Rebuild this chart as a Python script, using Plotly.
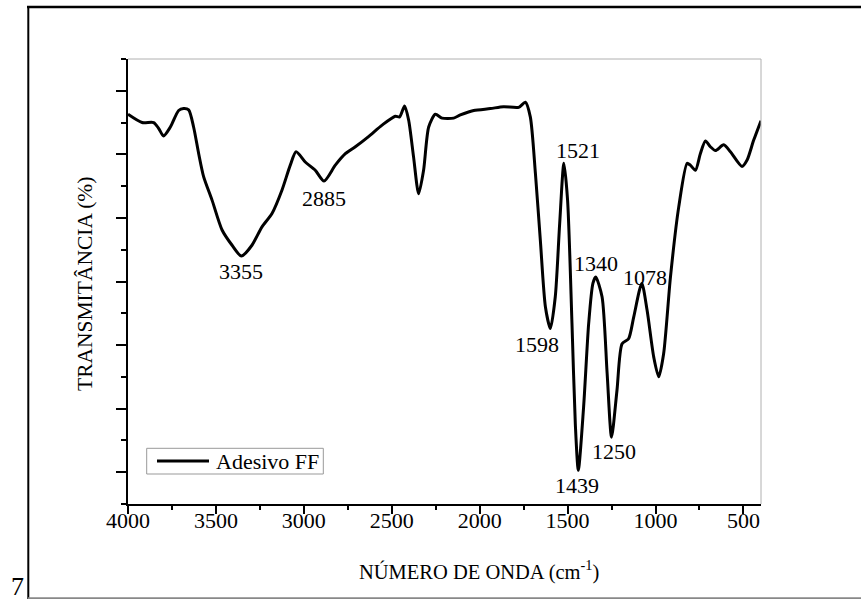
import plotly.graph_objects as go

# FTIR spectrum
wavenumber = [4000, 3920, 3854, 3826, 3798, 3759, 3712, 3684, 3655, 3627, 3598, 3570, 3522, 3465, 3408,
              3355, 3295, 3238, 3181, 3124, 3077, 3044, 2992, 2935, 2885, 2821, 2764, 2707, 2632, 2555,
              2480, 2455, 2427, 2404, 2376, 2347, 2319, 2290, 2252, 2214, 2148, 2110, 2034, 1939, 1864,
              1778, 1740, 1712, 1683, 1655, 1626, 1598, 1570, 1545, 1521, 1500, 1475, 1456, 1439, 1409,
              1380, 1356, 1340, 1304, 1275, 1250, 1219, 1190, 1153, 1124, 1078, 1048, 1010, 982, 954,
              915, 868, 820, 802, 773, 745, 716, 688, 659, 612, 574, 508, 479, 442, 400]
transmittance = [61.3, 60.0, 60.0, 59.1, 57.9, 59.3, 61.9, 62.2, 62.0, 59.3, 55.1, 51.5, 47.8, 43.1, 40.7,
                 39.0, 40.7, 43.6, 45.7, 49.4, 53.3, 55.4, 53.8, 52.5, 50.8, 53.3, 55.1, 56.2, 57.8, 59.6,
                 61.0, 60.9, 62.6, 60.4, 54.6, 48.8, 52.5, 59.3, 61.3, 60.7, 60.7, 61.2, 61.9, 62.2, 62.5,
                 62.4, 63.2, 60.9, 52.0, 41.5, 31.0, 27.6, 32.6, 44.1, 53.6, 47.8, 28.4, 12.6, 5.3, 15.2,
                 28.4, 34.7, 35.7, 32.6, 20.5, 10.5, 17.9, 25.2, 26.0, 29.4, 34.7, 30.5, 23.1, 20.0, 23.6,
                 35.7, 46.7, 53.6, 53.3, 52.5, 55.1, 57.1, 56.2, 55.6, 56.5, 55.4, 53.1, 54.1, 57.2, 60.3]

# labelled bands
peak_labels = ["3355", "2885", "1598", "1521", "1340", "1078", "1250", "1439"]
peak_wn = [3355, 2885, 1598, 1521, 1340, 1078, 1250, 1439]
peak_t = [39.0, 50.8, 27.6, 53.6, 35.7, 34.7, 10.5, 5.3]
label_dx = [0, 0, -13, 14, 0, 3, 2, -1]
label_dy = [-15, -17, -16, 13, 14, 6, -14, -15]

x_ticks = [4000, 3500, 3000, 2500, 2000, 1500, 1000, 500]
series_name = "Adesivo FF"

FONT = "Liberation Serif, Times New Roman, serif"
W, H = 861, 599
L, R, T, B = 128, 100, 59, 95
PW, PH = W - L - R, H - T - B


def px(xp):
    return (xp - L) / PW


def py(yp):
    return (H - B - yp) / PH


fig = go.Figure()
fig.add_trace(go.Scatter(
    x=wavenumber, y=transmittance, mode="lines", name=series_name,
    line=dict(color="black", width=3, shape="spline", smoothing=0.7),
    showlegend=False,
))

for lab, xv, yv, dx, dy in zip(peak_labels, peak_wn, peak_t, label_dx, label_dy):
    fig.add_annotation(x=xv, y=yv, text=lab, showarrow=False, xshift=dx, yshift=dy,
                       xanchor="center", yanchor="middle",
                       font=dict(family=FONT, size=22, color="black"))

# axis titles
fig.add_annotation(xref="paper", yref="paper", x=px(479), y=py(570),
                   xanchor="center", yanchor="middle",
                   text="NÚMERO DE ONDA (cm<sup>-1</sup>)", showarrow=False,
                   font=dict(family=FONT, size=20.5, color="black"))
fig.add_annotation(xref="paper", yref="paper", x=px(85), y=py(284),
                   xanchor="center", yanchor="middle",
                   text="TRANSMITÂNCIA (%)", showarrow=False, textangle=-90,
                   font=dict(family=FONT, size=21.5, color="black"))
# page number
fig.add_annotation(xref="paper", yref="paper", x=px(17), y=py(586),
                   xanchor="center", yanchor="middle",
                   text="7", showarrow=False,
                   font=dict(family=FONT, size=26, color="black"))

# legend box (drawn by hand to match the compact frame)
fig.add_shape(type="rect", xref="paper", yref="paper",
              x0=px(146.7), x1=px(323.3), y0=py(474), y1=py(448.3),
              line=dict(color="#999999", width=1), fillcolor="white", layer="above")
fig.add_shape(type="line", xref="paper", yref="paper",
              x0=px(157), x1=px(209), y0=py(461), y1=py(461),
              line=dict(color="black", width=3), layer="above")
fig.add_annotation(xref="paper", yref="paper", x=px(214), y=py(461),
                   xanchor="left", yanchor="middle", text=series_name, showarrow=False,
                   font=dict(family=FONT, size=22, color="black"))

# top/right frame of plot (grey)
fig.add_shape(type="line", xref="paper", yref="paper", x0=0, x1=1, y0=1, y1=1,
              line=dict(color="#b0b0b0", width=1))
fig.add_shape(type="line", xref="paper", yref="paper", x0=1, x1=1, y0=0, y1=1,
              line=dict(color="#b0b0b0", width=1))
# outer page frame
fig.add_shape(type="line", xref="paper", yref="paper", x0=px(27), x1=px(880), y0=py(7), y1=py(7),
              line=dict(color="black", width=2.5))
fig.add_shape(type="line", xref="paper", yref="paper", x0=px(28.3), x1=px(28.3), y0=py(6), y1=py(605),
              line=dict(color="black", width=2))
fig.add_shape(type="line", xref="paper", yref="paper", x0=px(28), x1=px(880), y0=py(598.3), y1=py(598.3),
              line=dict(color="#888888", width=2))

fig.update_layout(
    width=W, height=H,
    margin=dict(l=L, r=R, t=T, b=B, pad=0),
    paper_bgcolor="white", plot_bgcolor="white",
    font=dict(family=FONT, size=22, color="black"),
    showlegend=False,
    xaxis=dict(range=[4000, 400], tickmode="array", tickvals=x_ticks,
               ticks="outside", ticklen=8, tickwidth=2, tickcolor="black",
               ticklabelstandoff=-12,
               showline=True, linecolor="black", linewidth=2, showgrid=False, zeroline=False,
               tickfont=dict(family=FONT, size=22, color="black"),
               minor=dict(ticks="outside", ticklen=4, tickwidth=2, tickcolor="black",
                          tick0=250, dtick=500, showgrid=False)),
    yaxis=dict(range=[0, 70], tick0=5, dtick=10, ticks="outside", ticklen=10, tickwidth=2,
               tickcolor="black", showticklabels=False,
               showline=True, linecolor="black", linewidth=2, showgrid=False, zeroline=False,
               minor=dict(ticks="outside", ticklen=5, tickwidth=2, tickcolor="black",
                          tick0=0, dtick=10, showgrid=False)),
)

fig.write_html("out.html")
